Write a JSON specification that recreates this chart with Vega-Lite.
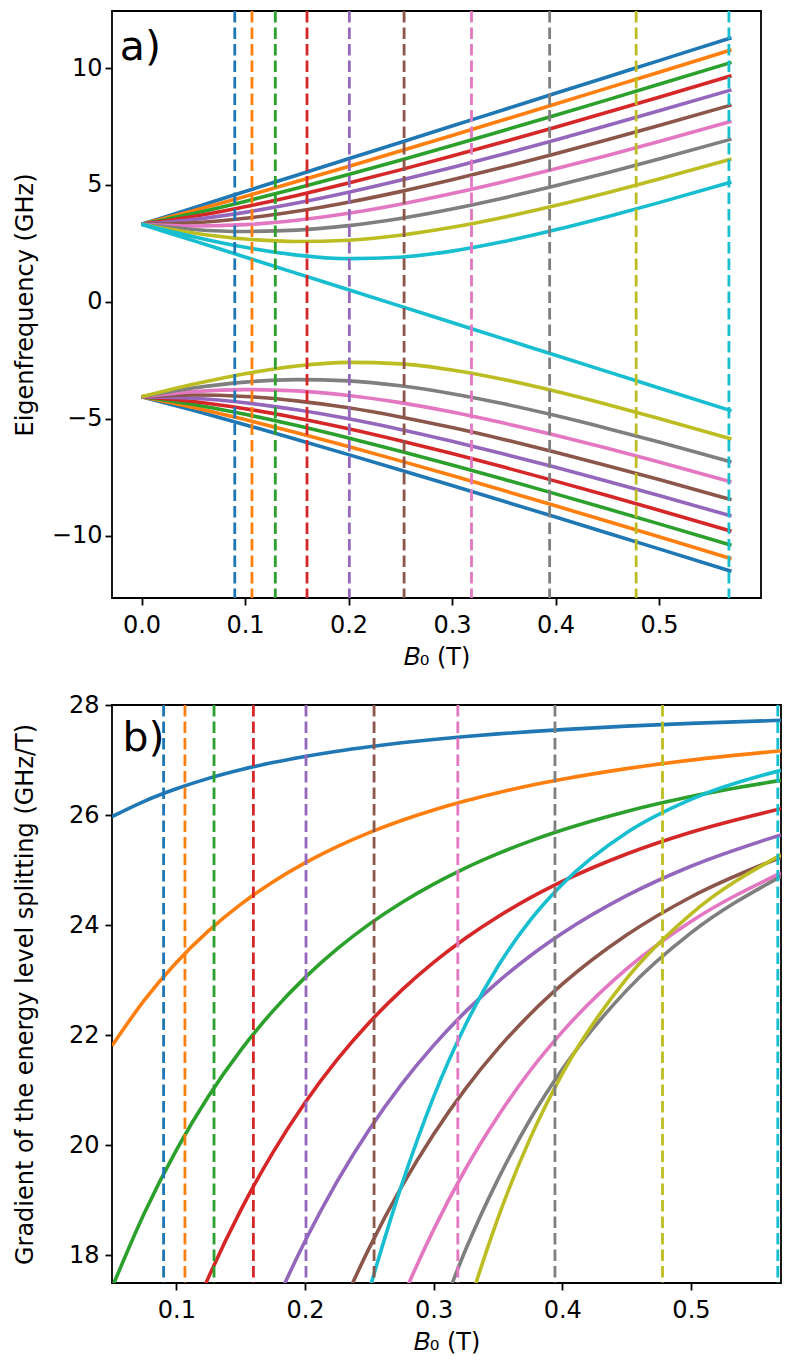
{
  "$schema": "https://vega.github.io/schema/vega-lite/v6.json",
  "background": "white",
  "padding": {"left": 12, "top": 8, "right": 5, "bottom": 5},
  "bounds": "flush",
  "spacing": 107,
  "resolve": {"scale": {"color": "independent"}},
  "config": {
    "font": "DejaVu Sans",
    "view": {"stroke": "black", "strokeWidth": 1.8},
    "axis": {"domain": false, "grid": false, "tickColor": "black", "tickWidth": 1.8, "tickSize": 7, "labelColor": "black", "titleColor": "black", "labelFontSize": 24, "titleFontSize": 24, "titleFontWeight": "normal", "labelFont": "DejaVu Sans", "titleFont": "DejaVu Sans", "labelFlush": false, "labelOverlap": false},
    "axisX": {"labelPadding": 8, "titlePadding": 8}
  },
  "datasets": {
    "levels": [
      {"b":0,"e":3.3196,"s":"U0"},{"b":0.05,"e":4.0196,"s":"U0"},{"b":0.1,"e":4.7196,"s":"U0"},{"b":0.15,"e":5.4196,"s":"U0"},{"b":0.2,"e":6.1196,"s":"U0"},{"b":0.25,"e":6.8196,"s":"U0"},{"b":0.3,"e":7.5196,"s":"U0"},{"b":0.35,"e":8.2196,"s":"U0"},{"b":0.4,"e":8.9196,"s":"U0"},{"b":0.45,"e":9.6196,"s":"U0"},{"b":0.5,"e":10.3196,"s":"U0"},{"b":0.57,"e":11.2996,"s":"U0"},
      {"b":0,"e":3.3196,"s":"U1"},{"b":0.05,"e":3.9003,"s":"U1"},{"b":0.1,"e":4.5124,"s":"U1"},{"b":0.15,"e":5.1455,"s":"U1"},{"b":0.2,"e":5.7931,"s":"U1"},{"b":0.25,"e":6.451,"s":"U1"},{"b":0.3,"e":7.1166,"s":"U1"},{"b":0.35,"e":7.7879,"s":"U1"},{"b":0.4,"e":8.4637,"s":"U1"},{"b":0.45,"e":9.143,"s":"U1"},{"b":0.5,"e":9.8251,"s":"U1"},{"b":0.57,"e":10.7837,"s":"U1"},
      {"b":0,"e":3.3196,"s":"U2"},{"b":0.05,"e":3.7776,"s":"U2"},{"b":0.1,"e":4.2961,"s":"U2"},{"b":0.15,"e":4.857,"s":"U2"},{"b":0.2,"e":5.4482,"s":"U2"},{"b":0.25,"e":6.0613,"s":"U2"},{"b":0.3,"e":6.6905,"s":"U2"},{"b":0.35,"e":7.332,"s":"U2"},{"b":0.4,"e":7.9829,"s":"U2"},{"b":0.45,"e":8.6411,"s":"U2"},{"b":0.5,"e":9.3053,"s":"U2"},{"b":0.57,"e":10.2428,"s":"U2"},
      {"b":0,"e":3.3196,"s":"U3"},{"b":0.05,"e":3.6511,"s":"U3"},{"b":0.1,"e":4.0691,"s":"U3"},{"b":0.15,"e":4.5517,"s":"U3"},{"b":0.2,"e":5.0816,"s":"U3"},{"b":0.25,"e":5.6463,"s":"U3"},{"b":0.3,"e":6.2371,"s":"U3"},{"b":0.35,"e":6.8474,"s":"U3"},{"b":0.4,"e":7.4727,"s":"U3"},{"b":0.45,"e":8.1096,"s":"U3"},{"b":0.5,"e":8.7559,"s":"U3"},{"b":0.57,"e":9.6727,"s":"U3"},
      {"b":0,"e":3.3196,"s":"U4"},{"b":0.05,"e":3.5206,"s":"U4"},{"b":0.1,"e":3.83,"s":"U4"},{"b":0.15,"e":4.226,"s":"U4"},{"b":0.2,"e":4.6884,"s":"U4"},{"b":0.25,"e":5.2006,"s":"U4"},{"b":0.3,"e":5.7501,"s":"U4"},{"b":0.35,"e":6.3277,"s":"U4"},{"b":0.4,"e":6.9268,"s":"U4"},{"b":0.45,"e":7.5425,"s":"U4"},{"b":0.5,"e":8.1712,"s":"U4"},{"b":0.57,"e":9.0683,"s":"U4"},
      {"b":0,"e":3.3196,"s":"U5"},{"b":0.05,"e":3.3854,"s":"U5"},{"b":0.1,"e":3.5764,"s":"U5"},{"b":0.15,"e":3.8755,"s":"U5"},{"b":0.2,"e":4.262,"s":"U5"},{"b":0.25,"e":4.7159,"s":"U5"},{"b":0.3,"e":5.2208,"s":"U5"},{"b":0.35,"e":5.7642,"s":"U5"},{"b":0.4,"e":6.3367,"s":"U5"},{"b":0.45,"e":6.9315,"s":"U5"},{"b":0.5,"e":7.5435,"s":"U5"},{"b":0.57,"e":8.4224,"s":"U5"},
      {"b":0,"e":3.3196,"s":"U6"},{"b":0.05,"e":3.2453,"s":"U6"},{"b":0.1,"e":3.3053,"s":"U6"},{"b":0.15,"e":3.4933,"s":"U6"},{"b":0.2,"e":3.7921,"s":"U6"},{"b":0.25,"e":4.1799,"s":"U6"},{"b":0.3,"e":4.636,"s":"U6"},{"b":0.35,"e":5.1434,"s":"U6"},{"b":0.4,"e":5.6894,"s":"U6"},{"b":0.45,"e":6.2644,"s":"U6"},{"b":0.5,"e":6.8614,"s":"U6"},{"b":0.57,"e":7.7251,"s":"U6"},
      {"b":0,"e":3.3196,"s":"U7"},{"b":0.05,"e":3.0995,"s":"U7"},{"b":0.1,"e":3.0125,"s":"U7"},{"b":0.15,"e":3.0689,"s":"U7"},{"b":0.2,"e":3.2619,"s":"U7"},{"b":0.25,"e":3.5699,"s":"U7"},{"b":0.3,"e":3.973,"s":"U7"},{"b":0.35,"e":4.446,"s":"U7"},{"b":0.4,"e":4.9649,"s":"U7"},{"b":0.45,"e":5.5222,"s":"U7"},{"b":0.5,"e":6.108,"s":"U7"},{"b":0.57,"e":6.9618,"s":"U7"},
      {"b":0,"e":3.3196,"s":"U8"},{"b":0.05,"e":2.9472,"s":"U8"},{"b":0.1,"e":2.6919,"s":"U8"},{"b":0.15,"e":2.5841,"s":"U8"},{"b":0.2,"e":2.6397,"s":"U8"},{"b":0.25,"e":2.8503,"s":"U8"},{"b":0.3,"e":3.1885,"s":"U8"},{"b":0.35,"e":3.6219,"s":"U8"},{"b":0.4,"e":4.1232,"s":"U8"},{"b":0.45,"e":4.672,"s":"U8"},{"b":0.5,"e":5.2545,"s":"U8"},{"b":0.57,"e":6.1091,"s":"U8"},
      {"b":0,"e":3.3196,"s":"U9"},{"b":0.05,"e":2.7877,"s":"U9"},{"b":0.1,"e":2.3335,"s":"U9"},{"b":0.15,"e":2.0021,"s":"U9"},{"b":0.2,"e":1.8493,"s":"U9"},{"b":0.25,"e":1.9113,"s":"U9"},{"b":0.3,"e":2.1724,"s":"U9"},{"b":0.35,"e":2.5802,"s":"U9"},{"b":0.4,"e":3.0831,"s":"U9"},{"b":0.45,"e":3.6455,"s":"U9"},{"b":0.5,"e":4.2457,"s":"U9"},{"b":0.57,"e":5.1257,"s":"U9"},
      {"b":0,"e":-4.0574,"s":"L0"},{"b":0.05,"e":-4.6381,"s":"L0"},{"b":0.1,"e":-5.2502,"s":"L0"},{"b":0.15,"e":-5.8833,"s":"L0"},{"b":0.2,"e":-6.5309,"s":"L0"},{"b":0.25,"e":-7.1888,"s":"L0"},{"b":0.3,"e":-7.8544,"s":"L0"},{"b":0.35,"e":-8.5257,"s":"L0"},{"b":0.4,"e":-9.2015,"s":"L0"},{"b":0.45,"e":-9.8808,"s":"L0"},{"b":0.5,"e":-10.5629,"s":"L0"},{"b":0.57,"e":-11.5215,"s":"L0"},
      {"b":0,"e":-4.0574,"s":"L1"},{"b":0.05,"e":-4.5154,"s":"L1"},{"b":0.1,"e":-5.0339,"s":"L1"},{"b":0.15,"e":-5.5948,"s":"L1"},{"b":0.2,"e":-6.186,"s":"L1"},{"b":0.25,"e":-6.7991,"s":"L1"},{"b":0.3,"e":-7.4283,"s":"L1"},{"b":0.35,"e":-8.0698,"s":"L1"},{"b":0.4,"e":-8.7207,"s":"L1"},{"b":0.45,"e":-9.3789,"s":"L1"},{"b":0.5,"e":-10.0431,"s":"L1"},{"b":0.57,"e":-10.9806,"s":"L1"},
      {"b":0,"e":-4.0574,"s":"L2"},{"b":0.05,"e":-4.3889,"s":"L2"},{"b":0.1,"e":-4.8069,"s":"L2"},{"b":0.15,"e":-5.2895,"s":"L2"},{"b":0.2,"e":-5.8194,"s":"L2"},{"b":0.25,"e":-6.3841,"s":"L2"},{"b":0.3,"e":-6.9749,"s":"L2"},{"b":0.35,"e":-7.5852,"s":"L2"},{"b":0.4,"e":-8.2105,"s":"L2"},{"b":0.45,"e":-8.8474,"s":"L2"},{"b":0.5,"e":-9.4937,"s":"L2"},{"b":0.57,"e":-10.4105,"s":"L2"},
      {"b":0,"e":-4.0574,"s":"L3"},{"b":0.05,"e":-4.2584,"s":"L3"},{"b":0.1,"e":-4.5678,"s":"L3"},{"b":0.15,"e":-4.9638,"s":"L3"},{"b":0.2,"e":-5.4262,"s":"L3"},{"b":0.25,"e":-5.9384,"s":"L3"},{"b":0.3,"e":-6.4879,"s":"L3"},{"b":0.35,"e":-7.0655,"s":"L3"},{"b":0.4,"e":-7.6646,"s":"L3"},{"b":0.45,"e":-8.2803,"s":"L3"},{"b":0.5,"e":-8.909,"s":"L3"},{"b":0.57,"e":-9.8061,"s":"L3"},
      {"b":0,"e":-4.0574,"s":"L4"},{"b":0.05,"e":-4.1232,"s":"L4"},{"b":0.1,"e":-4.3142,"s":"L4"},{"b":0.15,"e":-4.6133,"s":"L4"},{"b":0.2,"e":-4.9998,"s":"L4"},{"b":0.25,"e":-5.4537,"s":"L4"},{"b":0.3,"e":-5.9586,"s":"L4"},{"b":0.35,"e":-6.502,"s":"L4"},{"b":0.4,"e":-7.0745,"s":"L4"},{"b":0.45,"e":-7.6693,"s":"L4"},{"b":0.5,"e":-8.2813,"s":"L4"},{"b":0.57,"e":-9.1602,"s":"L4"},
      {"b":0,"e":-4.0574,"s":"L5"},{"b":0.05,"e":-3.9831,"s":"L5"},{"b":0.1,"e":-4.0431,"s":"L5"},{"b":0.15,"e":-4.2311,"s":"L5"},{"b":0.2,"e":-4.5299,"s":"L5"},{"b":0.25,"e":-4.9177,"s":"L5"},{"b":0.3,"e":-5.3738,"s":"L5"},{"b":0.35,"e":-5.8812,"s":"L5"},{"b":0.4,"e":-6.4272,"s":"L5"},{"b":0.45,"e":-7.0022,"s":"L5"},{"b":0.5,"e":-7.5992,"s":"L5"},{"b":0.57,"e":-8.4629,"s":"L5"},
      {"b":0,"e":-4.0574,"s":"L6"},{"b":0.05,"e":-3.8373,"s":"L6"},{"b":0.1,"e":-3.7503,"s":"L6"},{"b":0.15,"e":-3.8067,"s":"L6"},{"b":0.2,"e":-3.9997,"s":"L6"},{"b":0.25,"e":-4.3077,"s":"L6"},{"b":0.3,"e":-4.7108,"s":"L6"},{"b":0.35,"e":-5.1838,"s":"L6"},{"b":0.4,"e":-5.7027,"s":"L6"},{"b":0.45,"e":-6.26,"s":"L6"},{"b":0.5,"e":-6.8458,"s":"L6"},{"b":0.57,"e":-7.6996,"s":"L6"},
      {"b":0,"e":-4.0574,"s":"L7"},{"b":0.05,"e":-3.685,"s":"L7"},{"b":0.1,"e":-3.4297,"s":"L7"},{"b":0.15,"e":-3.3219,"s":"L7"},{"b":0.2,"e":-3.3775,"s":"L7"},{"b":0.25,"e":-3.5881,"s":"L7"},{"b":0.3,"e":-3.9263,"s":"L7"},{"b":0.35,"e":-4.3597,"s":"L7"},{"b":0.4,"e":-4.861,"s":"L7"},{"b":0.45,"e":-5.4098,"s":"L7"},{"b":0.5,"e":-5.9923,"s":"L7"},{"b":0.57,"e":-6.8469,"s":"L7"},
      {"b":0,"e":-4.0574,"s":"L8"},{"b":0.05,"e":-3.5255,"s":"L8"},{"b":0.1,"e":-3.0713,"s":"L8"},{"b":0.15,"e":-2.7399,"s":"L8"},{"b":0.2,"e":-2.5871,"s":"L8"},{"b":0.25,"e":-2.6491,"s":"L8"},{"b":0.3,"e":-2.9102,"s":"L8"},{"b":0.35,"e":-3.318,"s":"L8"},{"b":0.4,"e":-3.8209,"s":"L8"},{"b":0.45,"e":-4.3833,"s":"L8"},{"b":0.5,"e":-4.9835,"s":"L8"},{"b":0.57,"e":-5.8635,"s":"L8"},
      {"b":0,"e":3.3196,"s":"L9"},{"b":0.05,"e":2.6196,"s":"L9"},{"b":0.1,"e":1.9196,"s":"L9"},{"b":0.15,"e":1.2196,"s":"L9"},{"b":0.2,"e":0.5196,"s":"L9"},{"b":0.25,"e":-0.1804,"s":"L9"},{"b":0.3,"e":-0.8804,"s":"L9"},{"b":0.35,"e":-1.5804,"s":"L9"},{"b":0.4,"e":-2.2804,"s":"L9"},{"b":0.45,"e":-2.9804,"s":"L9"},{"b":0.5,"e":-3.6804,"s":"L9"},{"b":0.57,"e":-4.6604,"s":"L9"}
    ],
    "resA": [
      {"b":0.0901,"s":"U0"},{"b":0.1067,"s":"U1"},{"b":0.1293,"s":"U2"},{"b":0.1599,"s":"U3"},{"b":0.2008,"s":"U4"},{"b":0.2537,"s":"U5"},{"b":0.3188,"s":"U6"},{"b":0.3943,"s":"U7"},{"b":0.4779,"s":"U8"},{"b":0.5675,"s":"U9"}
    ],
    "resB": [
      {"b":0.0901,"s":"T0"},{"b":0.1067,"s":"T1"},{"b":0.1293,"s":"T2"},{"b":0.1599,"s":"T3"},{"b":0.2008,"s":"T4"},{"b":0.2537,"s":"T5"},{"b":0.3188,"s":"T6"},{"b":0.3943,"s":"T7"},{"b":0.4779,"s":"T8"},{"b":0.5675,"s":"T9"}
    ],
    "grad": [
      {"b":0.05,"g":25.972,"s":"T0"},{"b":0.075,"g":26.251,"s":"T0"},{"b":0.1,"g":26.478,"s":"T0"},{"b":0.125,"g":26.667,"s":"T0"},{"b":0.15,"g":26.823,"s":"T0"},{"b":0.175,"g":26.955,"s":"T0"},{"b":0.2,"g":27.066,"s":"T0"},{"b":0.225,"g":27.161,"s":"T0"},{"b":0.25,"g":27.242,"s":"T0"},{"b":0.275,"g":27.313,"s":"T0"},{"b":0.3,"g":27.374,"s":"T0"},{"b":0.325,"g":27.428,"s":"T0"},{"b":0.35,"g":27.475,"s":"T0"},{"b":0.375,"g":27.516,"s":"T0"},{"b":0.4,"g":27.553,"s":"T0"},{"b":0.45,"g":27.616,"s":"T0"},{"b":0.5,"g":27.666,"s":"T0"},{"b":0.57,"g":27.722,"s":"T0"},
      {"b":0.05,"g":21.808,"s":"T1"},{"b":0.075,"g":22.635,"s":"T1"},{"b":0.1,"g":23.322,"s":"T1"},{"b":0.125,"g":23.896,"s":"T1"},{"b":0.15,"g":24.378,"s":"T1"},{"b":0.175,"g":24.785,"s":"T1"},{"b":0.2,"g":25.131,"s":"T1"},{"b":0.225,"g":25.427,"s":"T1"},{"b":0.25,"g":25.681,"s":"T1"},{"b":0.275,"g":25.901,"s":"T1"},{"b":0.3,"g":26.093,"s":"T1"},{"b":0.325,"g":26.26,"s":"T1"},{"b":0.35,"g":26.406,"s":"T1"},{"b":0.375,"g":26.536,"s":"T1"},{"b":0.4,"g":26.65,"s":"T1"},{"b":0.45,"g":26.844,"s":"T1"},{"b":0.5,"g":26.999,"s":"T1"},{"b":0.57,"g":27.169,"s":"T1"},
      {"b":0.05,"g":17.412,"s":"T2"},{"b":0.075,"g":18.763,"s":"T2"},{"b":0.1,"g":19.914,"s":"T2"},{"b":0.125,"g":20.894,"s":"T2"},{"b":0.15,"g":21.727,"s":"T2"},{"b":0.175,"g":22.439,"s":"T2"},{"b":0.2,"g":23.047,"s":"T2"},{"b":0.225,"g":23.569,"s":"T2"},{"b":0.25,"g":24.019,"s":"T2"},{"b":0.275,"g":24.408,"s":"T2"},{"b":0.3,"g":24.746,"s":"T2"},{"b":0.325,"g":25.042,"s":"T2"},{"b":0.35,"g":25.3,"s":"T2"},{"b":0.375,"g":25.528,"s":"T2"},{"b":0.4,"g":25.729,"s":"T2"},{"b":0.45,"g":26.067,"s":"T2"},{"b":0.5,"g":26.337,"s":"T2"},{"b":0.57,"g":26.631,"s":"T2"},
      {"b":0.1,"g":16.198,"s":"T3"},{"b":0.125,"g":17.602,"s":"T3"},{"b":0.15,"g":18.819,"s":"T3"},{"b":0.175,"g":19.869,"s":"T3"},{"b":0.2,"g":20.775,"s":"T3"},{"b":0.225,"g":21.557,"s":"T3"},{"b":0.25,"g":22.232,"s":"T3"},{"b":0.275,"g":22.817,"s":"T3"},{"b":0.3,"g":23.325,"s":"T3"},{"b":0.325,"g":23.768,"s":"T3"},{"b":0.35,"g":24.155,"s":"T3"},{"b":0.375,"g":24.495,"s":"T3"},{"b":0.4,"g":24.794,"s":"T3"},{"b":0.45,"g":25.293,"s":"T3"},{"b":0.5,"g":25.688,"s":"T3"},{"b":0.57,"g":26.116,"s":"T3"},
      {"b":0.15,"g":15.573,"s":"T4"},{"b":0.175,"g":17.007,"s":"T4"},{"b":0.2,"g":18.258,"s":"T4"},{"b":0.225,"g":19.346,"s":"T4"},{"b":0.25,"g":20.289,"s":"T4"},{"b":0.275,"g":21.107,"s":"T4"},{"b":0.3,"g":21.816,"s":"T4"},{"b":0.325,"g":22.434,"s":"T4"},{"b":0.35,"g":22.971,"s":"T4"},{"b":0.375,"g":23.441,"s":"T4"},{"b":0.4,"g":23.853,"s":"T4"},{"b":0.45,"g":24.536,"s":"T4"},{"b":0.5,"g":25.071,"s":"T4"},{"b":0.57,"g":25.641,"s":"T4"},
      {"b":0.2,"g":15.404,"s":"T5"},{"b":0.225,"g":16.864,"s":"T5"},{"b":0.25,"g":18.138,"s":"T5"},{"b":0.275,"g":19.245,"s":"T5"},{"b":0.3,"g":20.204,"s":"T5"},{"b":0.325,"g":21.036,"s":"T5"},{"b":0.35,"g":21.757,"s":"T5"},{"b":0.375,"g":22.383,"s":"T5"},{"b":0.4,"g":22.928,"s":"T5"},{"b":0.45,"g":23.821,"s":"T5"},{"b":0.5,"g":24.512,"s":"T5"},{"b":0.57,"g":25.235,"s":"T5"},
      {"b":0.25,"g":15.698,"s":"T6"},{"b":0.275,"g":17.183,"s":"T6"},{"b":0.3,"g":18.47,"s":"T6"},{"b":0.325,"g":19.58,"s":"T6"},{"b":0.35,"g":20.529,"s":"T6"},{"b":0.375,"g":21.356,"s":"T6"},{"b":0.4,"g":22.062,"s":"T6"},{"b":0.45,"g":23.205,"s":"T6"},{"b":0.5,"g":24.067,"s":"T6"},{"b":0.57,"g":24.95,"s":"T6"},
      {"b":0.3,"g":16.605,"s":"T7"},{"b":0.325,"g":18.112,"s":"T7"},{"b":0.35,"g":19.383,"s":"T7"},{"b":0.375,"g":20.47,"s":"T7"},{"b":0.4,"g":21.382,"s":"T7"},{"b":0.45,"g":22.816,"s":"T7"},{"b":0.5,"g":23.859,"s":"T7"},{"b":0.57,"g":24.886,"s":"T7"},
      {"b":0.3,"g":14.701,"s":"T8"},{"b":0.325,"g":16.892,"s":"T8"},{"b":0.35,"g":18.679,"s":"T8"},{"b":0.375,"g":20.127,"s":"T8"},{"b":0.4,"g":21.3,"s":"T8"},{"b":0.45,"g":23.031,"s":"T8"},{"b":0.5,"g":24.203,"s":"T8"},{"b":0.57,"g":25.277,"s":"T8"},
      {"b":0.225,"g":15.255,"s":"T9"},{"b":0.25,"g":17.372,"s":"T9"},{"b":0.275,"g":19.27,"s":"T9"},{"b":0.3,"g":20.882,"s":"T9"},{"b":0.325,"g":22.2,"s":"T9"},{"b":0.35,"g":23.253,"s":"T9"},{"b":0.375,"g":24.087,"s":"T9"},{"b":0.4,"g":24.744,"s":"T9"},{"b":0.45,"g":25.68,"s":"T9"},{"b":0.5,"g":26.285,"s":"T9"},{"b":0.57,"g":26.814,"s":"T9"}
    ]
  },
  "vconcat": [
    {
      "width": 649,
      "height": 587,
      "encoding": {
        "x": {"field": "b", "type": "quantitative", "scale": {"domain": [-0.0285, 0.5985], "nice": false, "zero": false}, "axis": {"values": [0, 0.1, 0.2, 0.3, 0.4, 0.5], "format": ".1f", "title": "𝐵₀ (T)"}}
      },
      "layer": [
        {
          "data": {"name": "levels"},
          "mark": {"type": "line", "strokeWidth": 3.6, "interpolate": "monotone"},
          "encoding": {
            "y": {"field": "e", "type": "quantitative", "scale": {"domain": [-12.663, 12.441], "nice": false, "zero": false}, "axis": {"values": [-10, -5, 0, 5, 10], "format": "d", "title": "Eigenfrequency (GHz)", "labelPadding": 3, "titlePadding": 14}},
            "color": {"field": "s", "type": "nominal", "legend": null, "scale": {"domain": ["U0","U1","U2","U3","U4","U5","U6","U7","U8","U9","L0","L1","L2","L3","L4","L5","L6","L7","L8","L9"], "range": ["#1f77b4","#ff7f0e","#2ca02c","#d62728","#9467bd","#8c564b","#e377c2","#7f7f7f","#bcbd22","#17becf","#1f77b4","#ff7f0e","#2ca02c","#d62728","#9467bd","#8c564b","#e377c2","#7f7f7f","#bcbd22","#17becf"]}}
          }
        },
        {
          "data": {"name": "resA"},
          "mark": {"type": "rule", "strokeWidth": 2.8, "strokeDash": [11.5, 5]},
          "encoding": {
            "color": {"field": "s", "type": "nominal", "legend": null}
          }
        },
        {
          "data": {"values": [{"b": -0.021, "e": 10.34, "t": "a)"}]},
          "mark": {"type": "text", "align": "left", "baseline": "alphabetic", "fontSize": 41, "color": "black"},
          "encoding": {
            "y": {"field": "e", "type": "quantitative"},
            "text": {"field": "t"}
          }
        }
      ]
    },
    {
      "width": 669,
      "height": 578,
      "encoding": {
        "x": {"field": "b", "type": "quantitative", "scale": {"domain": [0.05, 0.57], "nice": false, "zero": false}, "axis": {"values": [0.1, 0.2, 0.3, 0.4, 0.5], "format": ".1f", "title": "𝐵₀ (T)"}}
      },
      "layer": [
        {
          "data": {"name": "grad"},
          "mark": {"type": "line", "strokeWidth": 3.6, "interpolate": "monotone", "clip": true},
          "encoding": {
            "y": {"field": "g", "type": "quantitative", "scale": {"domain": [17.5, 28], "nice": false, "zero": false}, "axis": {"values": [18, 20, 22, 24, 26, 28], "format": "d", "title": "Gradient of the energy level splitting (GHz/T)", "labelPadding": 6, "titlePadding": 31}},
            "color": {"field": "s", "type": "nominal", "legend": null, "scale": {"domain": ["T0","T1","T2","T3","T4","T5","T6","T7","T8","T9"], "range": ["#1f77b4","#ff7f0e","#2ca02c","#d62728","#9467bd","#8c564b","#e377c2","#7f7f7f","#bcbd22","#17becf"]}}
          }
        },
        {
          "data": {"name": "resB"},
          "mark": {"type": "rule", "strokeWidth": 2.8, "strokeDash": [11.5, 5]},
          "encoding": {
            "color": {"field": "s", "type": "nominal", "legend": null}
          }
        },
        {
          "data": {"values": [{"b": 0.0581, "g": 27.16, "t": "b)"}]},
          "mark": {"type": "text", "align": "left", "baseline": "alphabetic", "fontSize": 41, "color": "black"},
          "encoding": {
            "y": {"field": "g", "type": "quantitative"},
            "text": {"field": "t"}
          }
        }
      ]
    }
  ]
}
